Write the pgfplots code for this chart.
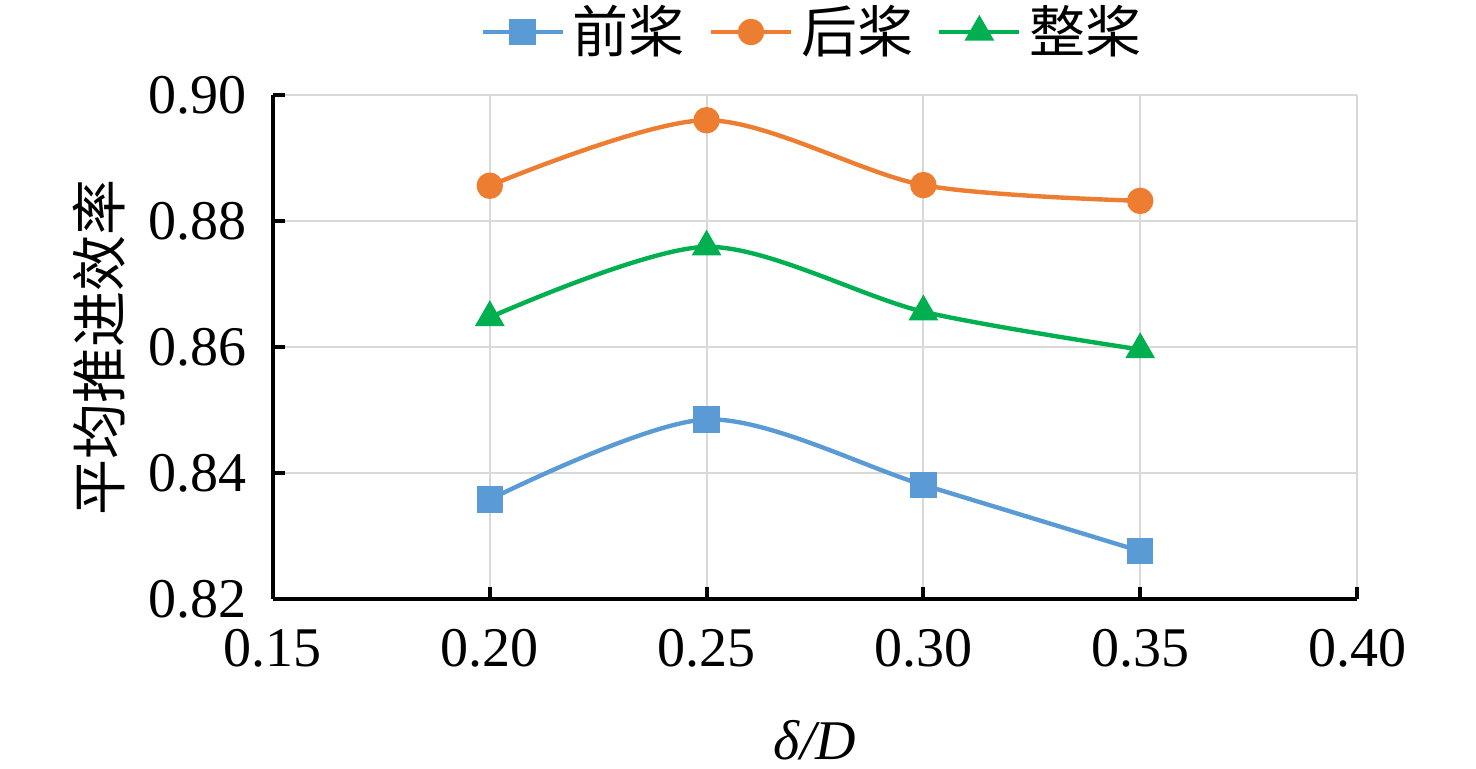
\documentclass[border=0pt]{standalone}
\usepackage{pgfplots}
\pgfplotsset{compat=1.18}
\usepackage{fontspec}
\setmainfont{Liberation Serif}
\newfontfamily\cjk{Noto Sans CJK SC}
\definecolor{cA}{HTML}{5B9BD5}
\definecolor{cB}{HTML}{ED7D31}
\definecolor{cC}{HTML}{00B050}
\definecolor{gridc}{HTML}{D9D9D9}
\begin{document}
\begin{tikzpicture}
\useasboundingbox (-68.25bp,-42.5bp) rectangle (300.75bp,149.75bp);
\begin{axis}[
  at={(0,0)}, anchor=origin,
  scale only axis, width=271bp, height=126bp,
  xmin=0.15, xmax=0.40, ymin=0.82, ymax=0.90,
  xtick={0.15,0.20,...,0.40}, ytick={0.82,0.84,...,0.90},
  xticklabel style={yshift=-4bp, /pgf/number format/.cd,fixed,fixed zerofill,precision=2},
  yticklabel style={xshift=-3bp, /pgf/number format/.cd,fixed,fixed zerofill,precision=2},
  /pgf/number format/assume math mode=true,
  tick label style={font=\fontsize{14bp}{16bp}\selectfont},
  axis x line*=bottom, axis y line*=left,
  axis line style={line width=1bp, -},
  tick style={black, line width=1bp},
  tick align=inside, major tick length=3bp,
  grid=major, grid style={gridc, line width=0.5bp},
  xlabel={\itshape δ/D}, ylabel={\cjk 平均推进效率},
  label style={font=\fontsize{14bp}{16bp}\selectfont},
  xlabel style={at={(axis description cs:0.5,-0.28)}, anchor=center},
  ylabel style={at={(axis description cs:-0.16,0.5)}, anchor=center},
  legend style={at={(axis description cs:0.5,1.125)}, anchor=center, draw=none,
    font=\fontsize{14bp}{16bp}\selectfont\cjk, /tikz/every even column/.append style={column sep=4bp}},
  legend columns=3,
  legend image code/.code={\draw[#1] (0bp,0bp) -- (20bp,0bp); \draw[#1, mark repeat=1] plot coordinates {(10bp,0bp)};},
  every axis plot/.append style={line width=1.1bp, smooth, tension=0.5},
]
\addplot[cA, mark=square*, mark size=2.75bp] coordinates {(0.20,0.8358) (0.25,0.8485) (0.30,0.8381) (0.35,0.8276)};
\addlegendentry{前桨}
\addplot[cB, mark=*, mark size=2.75bp] coordinates {(0.20,0.8856) (0.25,0.8960) (0.30,0.8857) (0.35,0.8832)};
\addlegendentry{后桨}
\addplot[cC, mark=triangle*, mark size=3.2bp] coordinates {(0.20,0.8647) (0.25,0.8759) (0.30,0.8656) (0.35,0.8596)};
\addlegendentry{整桨}
\end{axis}
\end{tikzpicture}
\end{document}
